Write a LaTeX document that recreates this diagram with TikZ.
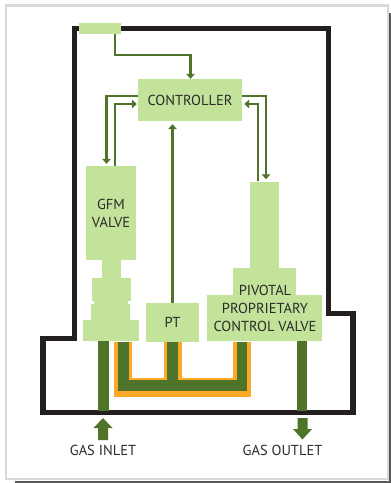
\documentclass[tikz,border=0pt]{standalone}
\usepackage{fontspec}
\setmainfont{PT Sans}
\usetikzlibrary{arrows.meta,calc}
\definecolor{lightg}{HTML}{C3E29A}
\definecolor{darkg}{HTML}{4F7328}
\definecolor{orangep}{HTML}{FBA927}
\definecolor{wallc}{HTML}{231F20}
\definecolor{txtc}{HTML}{2B2B2B}
\tikzset{
  x=1pt,y=-1pt,
  block/.style n args={2}{rectangle,draw=none,fill=lightg,inner sep=0pt,minimum width=#1,minimum height=#2,text=txtc,font=\fontsize{14.5}{18}\selectfont,align=center},
  caption/.style={inner sep=0pt,text=txtc,font=\fontsize{14.5}{18}\selectfont,align=center},
  wall/.style={draw=wallc,line width=5.4pt,miter limit=10},
  signal/.style={draw=darkg,line width=2.3pt,-{Triangle[width=8.5pt,length=5pt]}},
  gaspipe/.style={draw=darkg,line width=10.8pt,line cap=butt,line join=miter},
  orangepipe/.style={draw=orangep,line width=18.5pt,line cap=butt,line join=miter},
  gasarrow/.style={draw=none,fill=darkg},
}
\begin{document}
\begin{tikzpicture}
\useasboundingbox (0,0) rectangle (391,483);
% sheet and shadow
\fill[gray!70!black] (15,13) rectangle (391,483);
\fill[white] (0,0) rectangle (389,481);
\draw[draw=gray!30,line width=2.4pt] (6,5.5) rectangle (388,479);
% wall
\draw[wall] (74.5,338.5) -- (74.5,28.5) -- (328.3,28.5) -- (328.3,313.7) -- (353,313.7) -- (353,412.7) -- (43,412.7) -- (43,338.5) -- cycle;
% blocks
\node[block={42pt}{11pt}] (sensor) at (100,28.5) {};
\node[block={104pt}{42pt}] (ctrl) at (190,100) {CONTROLLER};
\node[block={50pt}{94pt}] (gfm) at (111,213) {GFM\\VALVE};
\node[block={19pt}{20pt}] (gfmneck) at (111.3,269) {};
\node[block={39pt}{23pt}] (gfmup) at (111.5,289.5) {};
\node[block={34pt}{5pt}] (gfmwaist) at (111,302.5) {};
\node[block={39pt}{17pt}] (gfmlow) at (110.5,312.5) {};
\node[block={55.5pt}{21pt}] (gfmbase) at (111.2,330.5) {};
\node[block={53pt}{39pt}] (pt) at (172.5,322.5) {PT};
\node[block={29pt}{87pt}] (pvtop) at (264.5,225) {};
\node[block={63pt}{28pt}] (pvmid) at (264.5,281.5) {};
\node[block={115pt}{46pt}] (pvbase) at (264.5,318) {};
\node[caption] (pvtext) at (265,308) {PIVOTAL\\PROPRIETARY\\CONTROL VALVE};
% manifold
\draw[orangepipe] (123.2,341.5) -- (123.2,387.5) -- (242,387.5) -- (242,341.5);
\draw[orangepipe] (173,341.5) -- (173,385.5);
\fill[white] (132,341.5) rectangle (164,375);
\fill[white] (182,341.5) rectangle (233,375);
\draw[gaspipe] (123.2,341.5) -- (123.2,385.4) -- (242,385.4) -- (242,341.5);
\draw[gaspipe,line width=11.6pt] (172.5,341.5) -- (172.5,385.4);
% straight pipes
\draw[gaspipe,line width=11pt] (gfmbase.south) ++(-8.2,0) -- ++(0,69.5);
\draw[gaspipe,line width=10.5pt] (pvbase.south) ++(37.7,0) -- ++(0,69.5);
% gas arrows
\fill[gasarrow] (98,440) -- (98,428) -- (93.5,428) -- (103,418) -- (112.5,428) -- (108,428) -- (108,440) -- cycle;
\fill[gasarrow] (297.5,418) -- (297.5,429) -- (293,429) -- (302.5,439.5) -- (312,429) -- (307.5,429) -- (307.5,418) -- cycle;
% signals
\draw[signal] ([xshift=15pt]sensor.south) |- (190.5,55) -- (ctrl.north -| 190.5,0);
\draw[signal] ([yshift=4pt]ctrl.west) -| ([xshift=-4.5pt,yshift=2pt]gfm.north);
\draw[signal] ([xshift=4pt]gfm.north) |- ([yshift=-4pt,xshift=-1pt]ctrl.west);
\draw[signal] ([yshift=4pt]ctrl.east) -| ([xshift=1.5pt,yshift=2pt]pvtop.north);
\draw[signal] ([xshift=-6.5pt]pvtop.north) |- ([yshift=-4pt,xshift=2pt]ctrl.east);
\draw[signal] (pt.north) -- ([yshift=-3pt]ctrl.south -| pt.north);
% labels
\node[caption] (inlet) at (103,450) {GAS INLET};
\node[caption] (outlet) at (282.5,450) {GAS OUTLET};
\end{tikzpicture}
\end{document}
